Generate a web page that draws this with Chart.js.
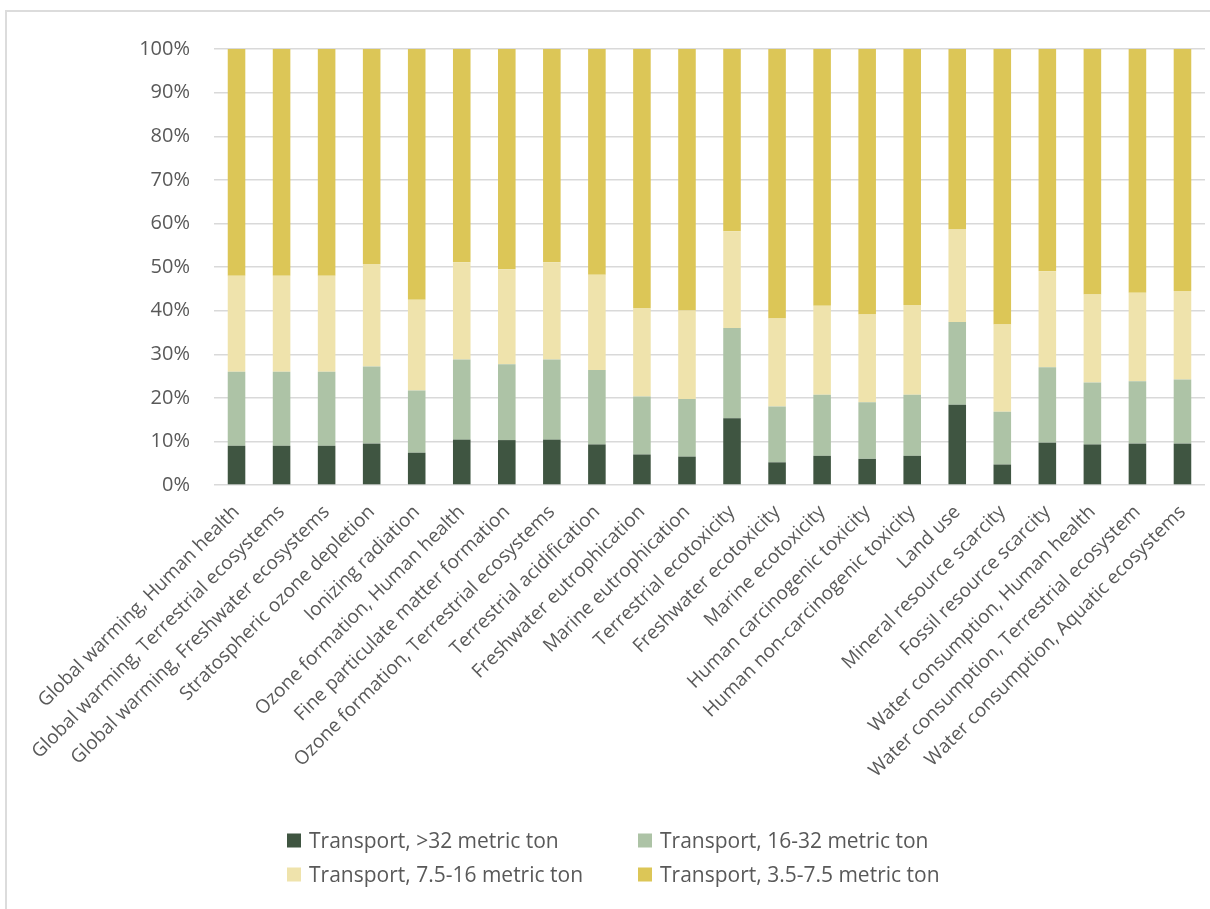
<!DOCTYPE html>
<html>
<head>
<meta charset="utf-8">
<script src="https://cdn.jsdelivr.net/npm/chart.js@4.4.1/dist/chart.umd.min.js"></script>
<style>
  html, body { margin: 0; padding: 0; background: #fff; overflow: hidden; }
  #wrap { position: relative; width: 1210px; height: 909px; }
  #frame { position: absolute; left: 5px; top: 10px; width: 1230px; height: 940px;
           border: 2px solid #dcdcdc; box-sizing: border-box; }
  #chart { position: absolute; left: 0; top: 0; }
</style>
</head>
<body>
<div id="wrap">
  <div id="frame"></div>
  <canvas id="chart" width="1210" height="909"></canvas>
</div>
<script>
'use strict';
//---------------- data ----------------
var categories = [
  'Global warming, Human health',
  'Global warming, Terrestrial ecosystems',
  'Global warming, Freshwater ecosystems',
  'Stratospheric ozone depletion',
  'Ionizing radiation',
  'Ozone formation, Human health',
  'Fine particulate matter formation',
  'Ozone formation, Terrestrial ecosystems',
  'Terrestrial acidification',
  'Freshwater eutrophication',
  'Marine eutrophication',
  'Terrestrial ecotoxicity',
  'Freshwater ecotoxicity',
  'Marine ecotoxicity',
  'Human carcinogenic toxicity',
  'Human non-carcinogenic toxicity',
  'Land use',
  'Mineral resource scarcity',
  'Fossil resource scarcity',
  'Water consumption, Human health',
  'Water consumption, Terrestrial ecosystem',
  'Water consumption, Aquatic ecosystems'
];

var seriesNames = [
  'Transport, >32 metric ton',
  'Transport, 16-32 metric ton',
  'Transport, 7.5-16 metric ton',
  'Transport, 3.5-7.5 metric ton'
];

// share of each impact category, in percent
var over32   = [9.0, 9.0, 9.0, 9.5, 7.4, 10.4, 10.3, 10.4, 9.3, 7.0, 6.5, 15.3, 5.2, 6.7, 6.0, 6.7, 18.4, 4.7, 9.7, 9.3, 9.5, 9.5];
var from16   = [17.0, 17.0, 17.0, 17.7, 14.3, 18.4, 17.4, 18.4, 17.1, 13.3, 13.2, 20.7, 12.8, 14.0, 13.0, 14.0, 19.0, 12.1, 17.3, 14.2, 14.3, 14.7];
var from7_5  = [22.0, 22.0, 22.0, 23.5, 20.8, 22.3, 21.8, 22.3, 21.8, 20.3, 20.3, 22.2, 20.2, 20.4, 20.1, 20.6, 21.2, 20.0, 22.0, 20.2, 20.3, 20.3];
var from3_5  = [52.0, 52.0, 52.0, 49.3, 57.5, 48.9, 50.5, 48.9, 51.8, 59.4, 60.0, 41.8, 61.8, 58.9, 60.9, 58.7, 41.4, 63.2, 51.0, 56.3, 55.9, 55.5];

var yTicks = [0, 10, 20, 30, 40, 50, 60, 70, 80, 90, 100];

var colors = ['#3f5541', '#adc3a6', '#efe3ac', '#dcc657'];

//---------------- legend drawn as a 2 x 2 grid ----------------
var gridLegend = {
  id: 'gridLegend',
  afterDraw: function (chart) {
    var ctx = chart.ctx;
    var cols = [287, 638], baselines = [848, 882];
    chart.data.datasets.forEach(function (ds, i) {
      var x = cols[i % 2], y = baselines[Math.floor(i / 2)];
      ctx.save();
      ctx.fillStyle = ds.backgroundColor;
      ctx.fillRect(x, y - 14.5, 14, 14);
      ctx.fillStyle = '#595959';
      ctx.font = '21px "Open Sans"';
      ctx.textBaseline = 'alphabetic';
      ctx.textAlign = 'left';
      ctx.fillText(ds.label, x + 22, y);
      ctx.restore();
    });
  }
};

var datasets = [over32, from16, from7_5, from3_5].map(function (vals, i) {
  return {
    label: seriesNames[i],
    data: vals,
    backgroundColor: colors[i],
    borderWidth: 0,
    barPercentage: 0.39,
    categoryPercentage: 1
  };
});

new Chart(document.getElementById('chart').getContext('2d'), {
  type: 'bar',
  data: { labels: categories, datasets: datasets },
  plugins: [gridLegend],
  options: {
    responsive: false,
    animation: false,
    events: [],
    layout: { padding: { top: 49, left: 0, right: 5, bottom: 94 } },
    plugins: {
      legend: { display: false },
      tooltip: { enabled: false }
    },
    scales: {
      x: {
        stacked: true,
        grid: { display: false },
        border: { display: false },
        afterFit: function (scale) { scale.height = 330; },
        ticks: {
          autoSkip: false,
          minRotation: 45,
          maxRotation: 45,
          padding: 8,
          color: '#595959',
          font: { family: '"Open Sans"', size: 19 }
        }
      },
      y: {
        stacked: true,
        min: 0,
        max: 100,
        afterFit: function (scale) { scale.width = 214; },
        afterBuildTicks: function (scale) {
          scale.ticks = yTicks.map(function (v) { return { value: v }; });
        },
        grid: { color: '#d9d9d9', lineWidth: 1.4, drawTicks: false },
        border: { display: false },
        ticks: {
          padding: 24,
          color: '#595959',
          font: { family: '"Open Sans"', size: 20 },
          callback: function (v) { return v + '%'; }
        }
      }
    }
  }
});
</script>
</body>
</html>
